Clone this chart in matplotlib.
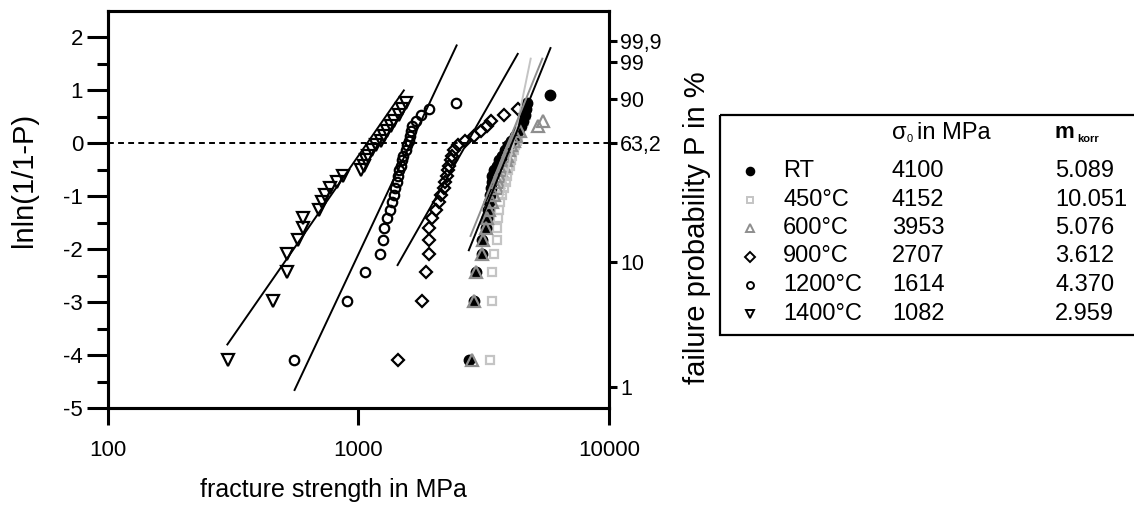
import numpy as np
import matplotlib
matplotlib.use('Agg')
import matplotlib.pyplot as plt
from matplotlib.patches import Rectangle

plt.rcParams['font.family'] = ['Liberation Sans', 'DejaVu Sans']

# ---- data ----
# ln ln (1/(1-P)) levels of the ranked specimens
levels = [-4.09, -2.97, -2.44, -2.09, -1.82, -1.60, -1.41, -1.25, -1.10, -0.97,
          -0.84, -0.73, -0.62, -0.51, -0.42, -0.32, -0.23, -0.13, -0.04, 0.05,
          0.14, 0.23, 0.33, 0.42, 0.53, 0.64, 0.77, 0.91]

x_rt = [2762, 2893, 2938, 3124, 3124, 3221, 3272, 3303, 3320, 3350, 3373, 3400,
        3427, 3470, 3560, 3650, 3750, 3850, 3950, 4050, 4200, 4350, 4450, 4550,
        4620, 4656, 4700, 5808]
x_450 = [3350, 3396, 3427, 3477, 3565, 3565, 3608, 3641, 3675, 3723, 3813, 3870,
         3920, 3970, 4010, 4050, 4100, 4160, 4220, 4280, 4340, 4400, 4480, 4560,
         4650]
x_600 = [2850, 2893, 2938, 3124, 3150, 3221, 3272, 3320, 3400, 3480, 3560, 3608,
         3650, 3698, 3813, 3870, 3932, 3990, 4055, 4180, 4256, 4394, 5186, 5430]
x_900 = [1436, 1798, 1854, 1911, 1911, 1911, 1972, 2032, 2095, 2142, 2194, 2215,
         2249, 2275, 2297, 2330, 2355, 2400, 2500, 2650, 2900, 3080, 3250, 3373,
         3813, 4313]
x_1200 = [555, 901, 1057, 1217, 1256, 1260, 1302, 1334, 1364, 1380, 1395, 1420,
          1440, 1450, 1472, 1485, 1510, 1542, 1566, 1589, 1600, 1614, 1639, 1690,
          1770, 1911, 2443]
x_1400 = [300, 454, 519, 519, 574, 601, 601, 694, 716, 735, 770, 822, 870, 1019,
          1050, 1070, 1090, 1134, 1170, 1225, 1263, 1302, 1343, 1384, 1450, 1496,
          1542]

series_labels = ['RT', '450°C', '600°C', '900°C', '1200°C', '1400°C']
sigma0 = [4100, 4152, 3953, 2707, 1614, 1082]
m_korr = [5.089, 10.051, 5.076, 3.612, 4.370, 2.959]
m_korr_text = ['5.089', '10.051', '5.076', '3.612', '4.370', '2.959']
fit_y_start = [-2.02, -1.0, -1.75, -2.30, -4.66, -3.80]
fit_y_end = [1.80, 1.60, 1.60, 1.69, 1.85, 1.00]

x_ticks = [100, 1000, 10000]
x_tick_labels = ['100', '1000', '10000']
p_ticks = [99.9, 99, 90, 63.2, 10, 1]
p_tick_labels = ['99,9', '99', '90', '63,2', '10', '1']

# ---- styles ----
LG = '#c4c4c4'
MG = '#8e8e8e'
styles = [
    dict(marker='o', ms=7.5, mfc='black', mec='black', mew=1.0, lc='black'),
    dict(marker='s', ms=6.0, mfc='none', mec=LG, mew=1.6, lc=LG),
    dict(marker='^', ms=8.0, mfc='none', mec=MG, mew=1.6, lc=MG),
    dict(marker='D', ms=6.5, mfc='none', mec='black', mew=1.6, lc='black'),
    dict(marker='o', ms=6.8, mfc='none', mec='black', mew=1.6, lc='black'),
    dict(marker='v', ms=8.0, mfc='none', mec='black', mew=1.6, lc='black'),
]
xs = [x_rt, x_450, x_600, x_900, x_1200, x_1400]

W, H = 1134, 519
fig = plt.figure(figsize=(W / 100, H / 100), dpi=100)
ax = fig.add_axes([108 / W, 1 - 408 / H, 501 / W, 397 / H])
ax.set_xscale('log')
ax.set_xlim(100, 10000)
ax.set_ylim(-5, 2.5)

ax.axhline(0, color='black', ls=(0, (3.0, 2.2)), lw=1.4, zorder=1)

draw_order = [1, 0, 2, 3, 4, 5]
for k in draw_order:
    st = styles[k]
    x = xs[k]
    y = levels[:len(x)]
    ax.plot(x, y, ls='none', marker=st['marker'], ms=st['ms'], mfc=st['mfc'],
            mec=st['mec'], mew=st['mew'], zorder=3)
for k in draw_order:
    st = styles[k]
    yy = np.linspace(fit_y_start[k], fit_y_end[k], 50)
    xx = sigma0[k] * np.exp(yy / m_korr[k])
    ax.plot(xx, yy, color=st['lc'], lw=1.4, zorder=4)

for s in ax.spines.values():
    s.set_linewidth(2.2)

ax.set_yticks(range(-5, 3))
ax.set_yticklabels([str(v) if v >= 0 else '-' + str(-v) for v in range(-5, 3)])
ax.set_yticks(np.arange(-4.5, 2.0, 1.0), minor=True)
ax.set_xticks(x_ticks)
ax.set_xticklabels(x_tick_labels)
ax.tick_params(axis='y', which='major', direction='out', length=15, width=2.2,
               labelsize=16, pad=3)
ax.tick_params(axis='y', which='minor', direction='out', length=8, width=2.2)
ax.tick_params(axis='x', which='major', direction='out', length=12, width=2.2,
               labelsize=16, pad=11)
ax.tick_params(axis='x', which='minor', direction='out', length=7, width=2.2)
ax.tick_params(top=False, right=False, which='both')

ax2 = ax.twinx()
ax2.set_ylim(-5, 2.5)
p = np.array(p_ticks) / 100.0
ax2.set_yticks(np.log(-np.log(1 - p)))
ax2.set_yticklabels(p_tick_labels)
ax2.tick_params(axis='y', direction='out', length=6, width=2.2, labelsize=15.5,
                pad=2)
ax2.minorticks_off()
for s in ax2.spines.values():
    s.set_linewidth(2.2)

fig.text(24 / W, 1 - 180 / H, 'lnln(1/1-P)', rotation=90, ha='center',
         va='center', fontsize=21)
fig.text(333 / W, 1 - 490 / H, 'fracture strength in MPa', ha='center',
         va='center', fontsize=18)
fig.text(697 / W, 1 - 228 / H, 'failure probability P in %', rotation=90,
         ha='center', va='center', fontsize=21)

# ---- table legend ----
lg = fig.add_axes([0, 0, 1, 1])
lg.set_xlim(0, W)
lg.set_ylim(H, 0)
lg.axis('off')
lg.add_patch(Rectangle((720, 115), 600, 220, fill=False, lw=1.6,
                       edgecolor='black'))
fs = 17
hy = 133
lg.text(892, hy, 'σ', fontsize=fs, va='center', ha='left')
lg.text(907, hy + 6, '0', fontsize=8, va='center', ha='left')
lg.text(917, hy, 'in MPa', fontsize=fs, va='center', ha='left')
lg.text(1055, hy, 'm', fontsize=fs - 1, va='center', ha='left',
        fontweight='bold')
lg.text(1077, hy + 6, 'korr', fontsize=8, va='center', ha='left',
        fontweight='bold')
leg_ms = [5.5, 5.0, 6.0, 5.0, 5.0, 6.0]
for k in range(6):
    st = styles[k]
    ry = 171 + k * 28.5
    lg.plot([750], [ry], ls='none', marker=st['marker'], ms=leg_ms[k],
            mfc=st['mfc'], mec=st['mec'], mew=1.4)
    lg.text(783, ry, series_labels[k], fontsize=fs, va='center', ha='left')
    lg.text(892, ry, str(sigma0[k]), fontsize=fs, va='center', ha='left')
    lg.text(1055, ry, m_korr_text[k], fontsize=fs, va='center', ha='left')

fig.savefig('out.png', dpi=100)
